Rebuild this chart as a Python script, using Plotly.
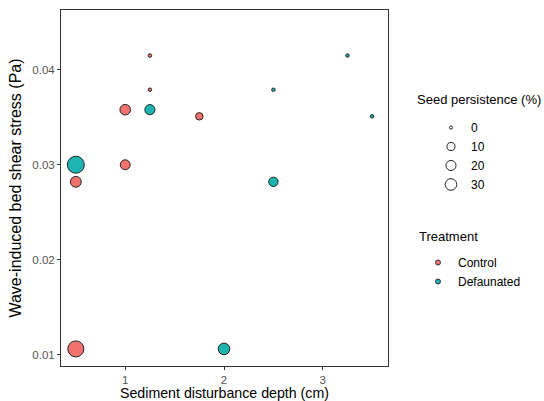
import numpy as np
import plotly.graph_objects as go

# ---- data ----
depth_control = [0.5, 0.5, 1.0, 1.0, 1.25, 1.25, 1.75]
stress_control = [0.0106, 0.0282, 0.0300, 0.0358, 0.0379, 0.0415, 0.0351]
persist_control = [50, 17, 13, 16, 0, 0, 5]

depth_def = [0.5, 1.25, 2.0, 2.5, 2.5, 3.25, 3.5]
stress_def = [0.0300, 0.0358, 0.0106, 0.0282, 0.0379, 0.0415, 0.0351]
persist_def = [58, 14, 21, 11, 0, 0, 0]

size_breaks = [0, 10, 20, 30]
treatments = ["Control", "Defaunated"]
colors = {"Control": "#F2736E", "Defaunated": "#1CB4B1"}

# size scale (area, like ggplot scale_size)
VMAX = 58.0
DMIN, DMAX = 3.5, 17.0


def size_scale(v):
    v = np.asarray(v, dtype=float)
    return DMIN + (DMAX - DMIN) * np.sqrt(np.clip(v, 0, None) / VMAX)


FONT = "Liberation Sans, Arial, sans-serif"
fig = go.Figure()

for name, xs, ys, ps in [("Control", depth_control, stress_control, persist_control),
                         ("Defaunated", depth_def, stress_def, persist_def)]:
    fig.add_trace(go.Scatter(
        x=xs, y=ys, mode="markers", showlegend=False,
        marker=dict(size=size_scale(ps), color=colors[name], opacity=1,
                    line=dict(color="#222222", width=1)),
    ))

# size legend
for v in size_breaks:
    fig.add_trace(go.Scatter(
        x=[None], y=[None], mode="markers", name=str(v), legend="legend",
        marker=dict(size=float(size_scale([v])[0]) * 0.88, color="white", opacity=1,
                    line=dict(color="#222222", width=1)),
    ))

# treatment legend
for name in treatments:
    fig.add_trace(go.Scatter(
        x=[None], y=[None], mode="markers", name=name, legend="legend2",
        marker=dict(size=5, color=colors[name], opacity=1,
                    line=dict(color="#333333", width=1)),
    ))

axis_common = dict(
    showgrid=False, zeroline=False, showline=True, mirror=True, automargin=False,
    linecolor="#333333", linewidth=1, ticks="outside", ticklen=3,
    tickcolor="#333333", tickfont=dict(family=FONT, size=11.5, color="#555555"),
)

PX0, PW = 61, 327  # plot area left / width in px
PY1, PH = 366, 356  # plot area bottom / height in px


def px_x(p):
    return (p - PX0) / PW


def px_y(p):
    return (PY1 - p) / PH


fig.update_layout(
    width=544, height=401,
    margin=dict(l=61, r=156, t=10, b=35),
    paper_bgcolor="white", plot_bgcolor="white",
    font=dict(family=FONT, color="#000000"),
    xaxis=dict(range=[0.35, 3.66], tickvals=[1, 2, 3],
               title=dict(text="Sediment disturbance depth (cm)",
                          font=dict(family=FONT, size=14.2), standoff=3),
               **axis_common),
    yaxis=dict(range=[0.0088, 0.0463], tickvals=[0.01, 0.02, 0.03, 0.04],
               tickformat=".2f",
               title=dict(text="Wave-induced bed shear stress (Pa)",
                          font=dict(family=FONT, size=16), standoff=6),
               **axis_common),
    legend=dict(
        font=dict(family=FONT, size=12), x=px_x(431), y=px_y(113),
        xanchor="left", yanchor="top", itemsizing="trace", tracegroupgap=0,
        bgcolor="rgba(0,0,0,0)",
    ),
    legend2=dict(
        font=dict(family=FONT, size=12), x=px_x(418), y=px_y(248),
        xanchor="left", yanchor="top", itemsizing="trace",
        bgcolor="rgba(0,0,0,0)",
    ),
    annotations=[
        dict(text="Seed persistence (%)", xref="paper", yref="paper",
             x=px_x(415), y=px_y(100), xanchor="left", yanchor="middle",
             showarrow=False, font=dict(family=FONT, size=13)),
        dict(text="Treatment", xref="paper", yref="paper",
             x=px_x(417), y=px_y(236), xanchor="left", yanchor="middle",
             showarrow=False, font=dict(family=FONT, size=13)),
    ],
)

fig.write_html("out.html")
